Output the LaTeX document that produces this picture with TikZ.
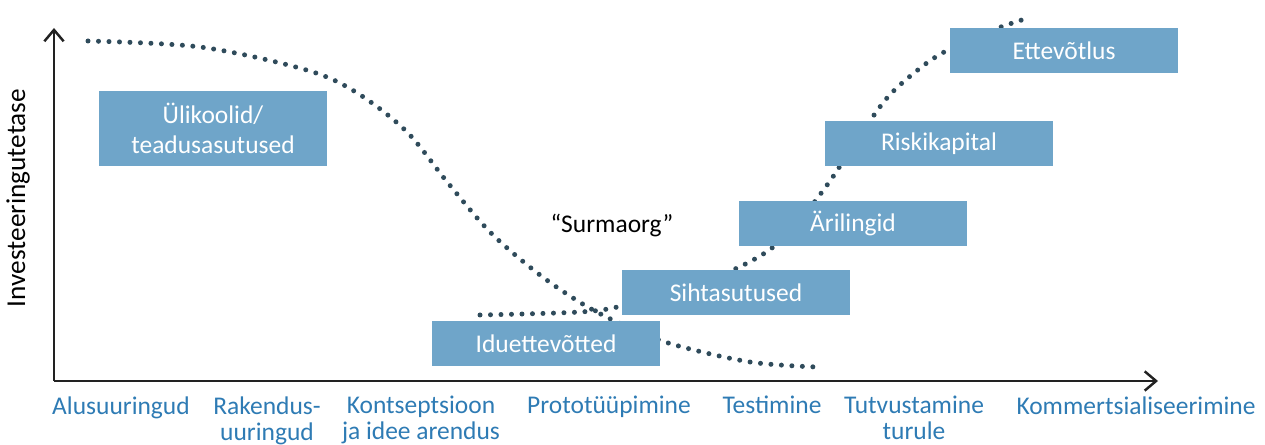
\documentclass[tikz,border=0pt]{standalone}
\usepackage{fontspec}
\setmainfont{Carlito}
\usepackage{tikz}
\usetikzlibrary{arrows.meta}
\definecolor{boxBlue}{HTML}{6FA5C9}
\definecolor{labelBlue}{HTML}{2E7BB4}
\definecolor{dotGray}{HTML}{2F4B5B}
\definecolor{axisBlack}{HTML}{222222}

\begin{document}
\begin{tikzpicture}[x=0.02cm, y=-0.02cm,
    stagebox/.style={fill=boxBlue, text=white, minimum width=4.56cm, minimum height=0.9cm,
        inner sep=0pt, align=center, font=\fontsize{14.5}{17.5}\selectfont},
    phase/.style={text=labelBlue, align=center, anchor=north, inner sep=0pt,
        font=\fontsize{14.5}{14.8}\selectfont},
    dotline/.style={dotGray, line width=0.1cm, line cap=round, dash pattern=on 0pt off 0.21cm}]
    \useasboundingbox (0,0) rectangle (1265,445);

    % Axes
    \coordinate (origin) at (54,381);
    \coordinate (ytop) at (54,28);
    \coordinate (xend) at (1158,381);
    \draw[axisBlack, line width=1.4pt, -{Straight Barb[length=6.5pt, width=11pt]}] (origin) -- (ytop);
    \draw[axisBlack, line width=1.4pt, -{Straight Barb[length=6.5pt, width=11pt]}] (origin) -- (xend);
    \node[rotate=90, font=\fontsize{15.5}{18}\selectfont] (ylabel) at (18,198) {Investeeringutetase};

    % Research investment curve
    \draw[dotline] plot[smooth, tension=0.55] coordinates {(88,41) (200,47) (303,69) (354,91) (406,131)
        (448,183) (491,233) (540,275) (586,306) (630,328) (675,345) (750,362) (817,367)};

    % Private investment curve
    \draw[dotline] plot[smooth, tension=0.55] coordinates {(480,315) (580,312) (622,306) (680,290)
        (735,269) (772,248) (800,220) (830,181) (855,143) (887,98) (919,69) (946,51) (990,31) (1028,18)};

    % Funding sources
    \node[stagebox, minimum height=1.5cm] (uni) at (213,128.5) {Ülikoolid/\\teadusasutused};
    \node[stagebox] (idu) at (546,343.5) {Iduettevõtted};
    \node[stagebox] (siht) at (736,292.5) {Sihtasutused};
    \node[stagebox] (ari) at (853,223.5) {Ärilingid};
    \node[stagebox] (risk) at (939,143.5) {Riskikapital};
    \node[stagebox] (ettev) at (1064,50.5) {Ettevõtlus};

    \node[font=\fontsize{14.5}{16}\selectfont] (valley) at (612,226) {“Surmaorg”};

    % Phases
    \node[phase] (p1) at (121,396) {Alusuuringud};
    \node[phase] (p2) at (267,396) {Rakendus-\\uuringud};
    \node[phase] (p3) at (421,396) {Kontseptsioon\\ja idee arendus};
    \node[phase] (p4) at (609,396) {Prototüüpimine};
    \node[phase] (p5) at (772,396) {Testimine};
    \node[phase] (p6) at (914,396) {Tutvustamine\\turule};
    \node[phase] (p7) at (1136,396) {Kommertsialiseerimine};
\end{tikzpicture}
\end{document}
